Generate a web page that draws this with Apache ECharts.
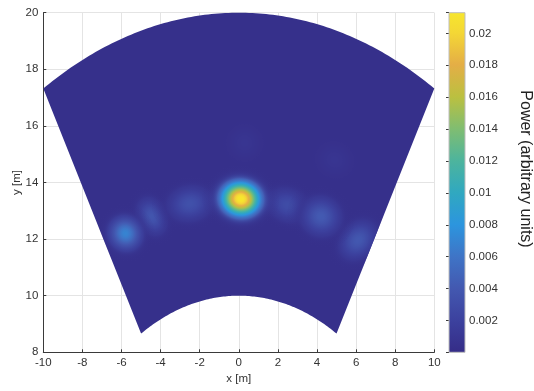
<!DOCTYPE html>
<html>
<head>
<meta charset="utf-8">
<script src="https://cdn.jsdelivr.net/npm/echarts@6/dist/echarts.min.js"></script>
<style>
html,body{margin:0;padding:0;background:#fff;}
#c{width:534px;height:391px;}
</style>
</head>
<body>
<div id="c"></div>
<script>
// ---------------- data ----------------
const xTicks = [-10, -8, -6, -4, -2, 0, 2, 4, 6, 8, 10];
const yTicks = [8, 10, 12, 14, 16, 18, 20];
const colorbarTicks = [0.002, 0.004, 0.006, 0.008, 0.01, 0.012, 0.014, 0.016, 0.018, 0.02];
const powerRange = [0, 0.0213];          // colour limits of the colorbar

// field of view of the sensor (sector)
const rangeLimits = [10, 20];            // m
const angleLimits = [-30, 30];           // deg from boresight

// power peaks seen in the map
const peakX     = [0.3,    4.9,    -4.45,  -2.5,   2.5,    6.1,    4.2,    -5.8,   0.1];
const peakY     = [15.4,   14.8,   12.8,   13.25,  13.2,   11.96,  12.8,   12.2,   13.42];
const peakPower = [0.0005, 0.0005, 0.0034, 0.0030, 0.0026, 0.0036, 0.0038, 0.0066, 0.0213];
const peakSpreadAlong = [0.5,  0.5,  0.4,  0.65, 0.6,  0.44, 0.55, 0.46, 0.66]; // m (sigma, along arc)
const peakSpreadRange = [0.35, 0.35, 0.40, 0.36, 0.34, 0.46, 0.4,  0.38, 0.40]; // m (sigma, radial)
const backgroundPower = 0.00035;

// ---------------- colour map (styles) ----------------
const cmapStops = [
  [0.000, '#352c87'], [0.094, '#3c419e'], [0.188, '#4358b0'], [0.282, '#3f74c6'],
  [0.376, '#2c95de'], [0.470, '#30a8c0'], [0.564, '#4db49d'], [0.658, '#80bd71'],
  [0.752, '#bbc040'], [0.846, '#e4ae46'], [0.940, '#f4d735'], [1.000, '#f7e62d']
];
function hexRgb(h) {
  return [parseInt(h.slice(1, 3), 16), parseInt(h.slice(3, 5), 16), parseInt(h.slice(5, 7), 16)];
}
function cmap(f, a) {
  f = Math.max(0, Math.min(1, f));
  let i = 0;
  while (i < cmapStops.length - 2 && f > cmapStops[i + 1][0]) i++;
  const s0 = cmapStops[i], s1 = cmapStops[i + 1];
  const u = (f - s0[0]) / (s1[0] - s0[0]);
  const c0 = hexRgb(s0[1]), c1 = hexRgb(s1[1]);
  const c = c0.map((v, k) => Math.round(v + (c1[k] - v) * u));
  return 'rgba(' + c[0] + ',' + c[1] + ',' + c[2] + ',' + (a === undefined ? 1 : a) + ')';
}

const FONT = "'Liberation Sans', Arial, Helvetica, sans-serif";
const TXT = '#333333';

function fanPoints(api, r0, r1, a0, a1) {
  const pts = [];
  const N = 120;
  for (let i = 0; i <= N; i++) {
    const a = (a0 + (a1 - a0) * i / N) * Math.PI / 180;
    pts.push(api.coord([r1 * Math.sin(a), r1 * Math.cos(a)]));
  }
  for (let i = N; i >= 0; i--) {
    const a = (a0 + (a1 - a0) * i / N) * Math.PI / 180;
    pts.push(api.coord([r0 * Math.sin(a), r0 * Math.cos(a)]));
  }
  return pts;
}

const chart = echarts.init(document.getElementById('c'), null, { renderer: 'canvas' });

const pMax = powerRange[1];

const option = {
  animation: false,
  backgroundColor: '#ffffff',
  grid: [
    { left: 43.3, top: 12.7, width: 391, height: 339.6, outerBoundsMode: 'none' },
    { left: 449, top: 12.7, width: 16, height: 339.6, outerBoundsMode: 'none' }
  ],
  xAxis: [
    {
      gridIndex: 0, type: 'value',
      min: xTicks[0], max: xTicks[xTicks.length - 1], interval: xTicks[1] - xTicks[0],
      name: 'x [m]', nameLocation: 'middle', nameGap: 21, nameMoveOverlap: false,
      nameTextStyle: { fontFamily: FONT, fontSize: 11.5, color: TXT },
      axisLine: { onZero: false, lineStyle: { color: '#3a3a3a', width: 1 } },
      axisTick: { inside: true, length: 3, lineStyle: { color: '#3a3a3a' } },
      axisLabel: { fontFamily: FONT, fontSize: 11.5, color: TXT, margin: 5 },
      splitLine: { show: true, lineStyle: { color: '#e4e4e4', width: 1 } }
    },
    { gridIndex: 1, type: 'value', min: 0, max: 1, show: false }
  ],
  yAxis: [
    {
      gridIndex: 0, type: 'value',
      min: yTicks[0], max: yTicks[yTicks.length - 1], interval: yTicks[1] - yTicks[0],
      name: 'y [m]', nameLocation: 'middle', nameGap: 20, nameMoveOverlap: false,
      nameTextStyle: { fontFamily: FONT, fontSize: 11.5, color: TXT },
      axisLine: { onZero: false, lineStyle: { color: '#3a3a3a', width: 1 } },
      axisTick: { inside: true, length: 3, lineStyle: { color: '#3a3a3a' } },
      axisLabel: { fontFamily: FONT, fontSize: 11.5, color: TXT, margin: 5 },
      splitLine: { show: true, lineStyle: { color: '#e4e4e4', width: 1 } }
    },
    {
      gridIndex: 1, type: 'value', position: 'right',
      min: powerRange[0], max: powerRange[1], interval: colorbarTicks[1] - colorbarTicks[0],
      axisLine: { show: false },
      axisTick: { inside: true, length: 3, lineStyle: { color: '#3a3a3a' } },
      splitLine: { show: false },
      axisLabel: {
        fontFamily: FONT, fontSize: 11.5, color: TXT, margin: 4,
        formatter: function (v) {
          const s = String(+v.toFixed(3));
          return colorbarTicks.some(t => Math.abs(t - v) < 1e-7) ? s : '';
        }
      }
    }
  ],
  series: [
    // sector (field of view) filled with the background power
    {
      type: 'custom', xAxisIndex: 0, yAxisIndex: 0, silent: true, z: 2,
      data: [[rangeLimits[0], rangeLimits[1], angleLimits[0], angleLimits[1], backgroundPower]],
      renderItem: function (params, api) {
        const pts = fanPoints(api, api.value(0), api.value(1), api.value(2), api.value(3));
        return { type: 'polygon', shape: { points: pts }, style: { fill: cmap(api.value(4) / pMax), stroke: null } };
      }
    },
    // power peaks
    {
      type: 'custom', xAxisIndex: 0, yAxisIndex: 0, silent: true, z: 3,
      data: peakX.map((x, i) => [x, peakY[i], peakPower[i], peakSpreadAlong[i], peakSpreadRange[i]]),
      renderItem: function (params, api) {
        const x = api.value(0), y = api.value(1), p = api.value(2), st = api.value(3), sr = api.value(4);
        const r = Math.hypot(x, y), th = Math.atan2(x, y);
        const K = 3;
        const c = api.coord([x, y]);
        const dth = K * st / r;
        const pt = api.coord([r * Math.sin(th + dth), r * Math.cos(th + dth)]);
        const pr = api.coord([(r + K * sr) * Math.sin(th), (r + K * sr) * Math.cos(th)]);
        const tvx = pt[0] - c[0], tvy = pt[1] - c[1];
        const lenT = Math.hypot(tvx, tvy), lenR = Math.hypot(pr[0] - c[0], pr[1] - c[1]);
        const rot = Math.atan2(-tvy, tvx);
        const stops = [];
        const N = 40;
        for (let i = 0; i <= N; i++) {
          const t = i / N;
          const g = Math.exp(-(K * t) * (K * t) / 2);
          const v = backgroundPower + p * g;
          const a = Math.min(1, g / 0.2);
          stops.push({ offset: t, color: cmap(v / pMax, a) });
        }
        return {
          type: 'group',
          clipPath: { type: 'polygon', shape: { points: fanPoints(api, rangeLimits[0], rangeLimits[1], angleLimits[0], angleLimits[1]) } },
          children: [{
            type: 'circle', x: c[0], y: c[1], rotation: rot,
            scaleX: lenT / 10, scaleY: lenR / 10,
            shape: { cx: 0, cy: 0, r: 10 },
            style: { fill: { type: 'radial', x: 0.5, y: 0.5, r: 0.5, colorStops: stops, global: false } }
          }]
        };
      }
    },
    // colorbar
    {
      type: 'custom', xAxisIndex: 1, yAxisIndex: 1, silent: true, z: 2,
      data: [[0, powerRange[0], 1, powerRange[1]]],
      renderItem: function (params, api) {
        const p0 = api.coord([api.value(0), api.value(1)]);
        const p1 = api.coord([api.value(2), api.value(3)]);
        return {
          type: 'rect',
          shape: { x: p0[0], y: p1[1], width: p1[0] - p0[0], height: p0[1] - p1[1] },
          style: {
            fill: {
              type: 'linear', x: 0, y: 1, x2: 0, y2: 0, global: false,
              colorStops: cmapStops.map(s => ({ offset: s[0], color: s[1] }))
            },
            stroke: '#bdbdbd', lineWidth: 1
          }
        };
      }
    }
  ],
  graphic: [
    {
      type: 'text', x: 525, y: 169, rotation: -Math.PI / 2,
      style: { text: 'Power (arbitrary units)', font: '16px ' + FONT, fill: '#222222', align: 'center', verticalAlign: 'middle' }
    }
  ]
};
chart.setOption(option);
</script>
</body>
</html>
